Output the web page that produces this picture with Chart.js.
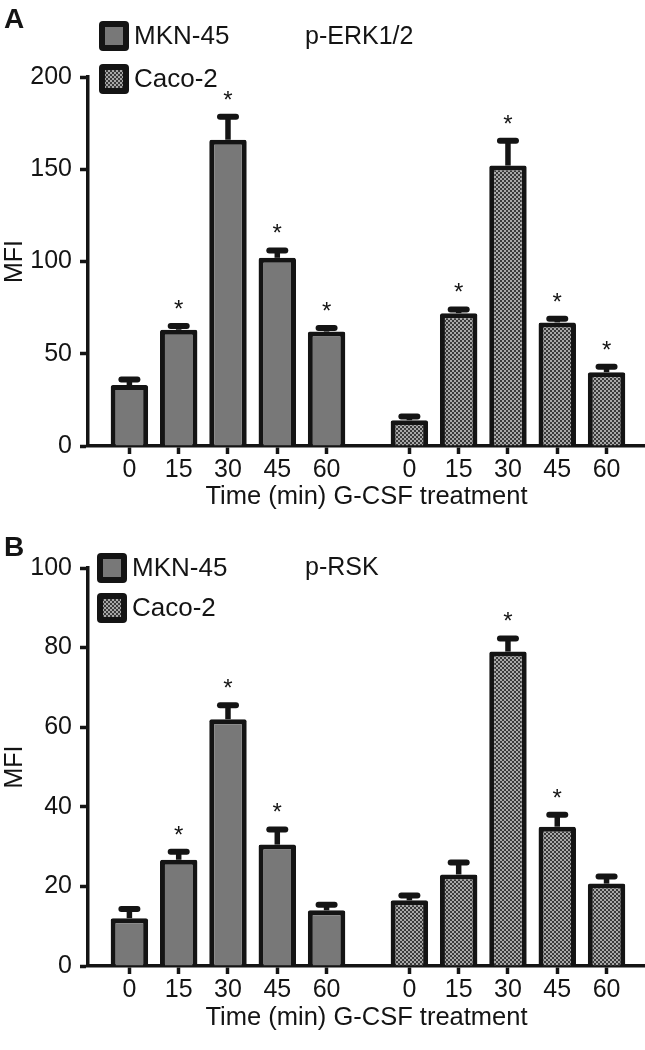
<!DOCTYPE html>
<html>
<head>
<meta charset="utf-8">
<script src="https://cdn.jsdelivr.net/npm/chart.js@4.4.1/dist/chart.umd.min.js"></script>
<style>
body { margin: 0; background: #fff; }
canvas { display: block; }
</style>
</head>
<body>
<canvas id="chartA" width="645" height="525"></canvas>
<canvas id="chartB" width="645" height="525"></canvas>
<script>
// time points (min) and the two cell lines
const timeLabels = ['0', '15', '30', '45', '60'];
const seriesNames = ['MKN-45', 'Caco-2'];

// panel A: p-ERK1/2
const erkMkn = [33, 63, 166, 102, 62];
const erkMknErr = [3, 2, 12.5, 4, 2];
const erkMknStars = ['', '*', '*', '*', '*'];
const erkCaco = [14, 72, 152, 67, 40];
const erkCacoErr = [2, 2, 13.5, 2, 3];
const erkCacoStars = ['', '*', '*', '*', '*'];

// panel B: p-RSK
const rskMkn = [12, 26.7, 62, 30.5, 14];
const rskMknErr = [2.3, 2, 3.5, 3.8, 1.4];
const rskMknStars = ['', '*', '*', '*', ''];
const rskCaco = [16.5, 23, 79, 35, 20.7];
const rskCacoErr = [1.2, 3, 3.3, 3, 1.8];
const rskCacoStars = ['', '', '*', '*', ''];

const FONT = "'Liberation Sans', Arial, Helvetica, sans-serif";
const INK = '#141414';
const GROUP_GAP = 5.68;   // where the second group starts on the x scale

const posMkn = timeLabels.map((t, i) => i);
const posCaco = timeLabels.map((t, i) => i + GROUP_GAP);
const tickPos = posMkn.concat(posCaco);
const tickText = timeLabels.concat(timeLabels);

function checker(ctx) {
  const c = document.createElement('canvas');
  c.width = 4; c.height = 4;
  const g = c.getContext('2d');
  g.fillStyle = '#a8a8a8';
  g.fillRect(0, 0, 4, 4);
  g.fillStyle = '#3a3a3a';
  g.fillRect(0, 0, 2, 2);
  g.fillRect(2, 2, 2, 2);
  return ctx.createPattern(c, 'repeat');
}

// error caps, asterisks, legend and panel labels
const extras = {
  id: 'extras',
  afterDatasetsDraw(chart) {
    const ctx = chart.ctx;
    const y = chart.scales.y;
    chart.data.datasets.forEach((ds, di) => {
      const meta = chart.getDatasetMeta(di);
      meta.data.forEach((bar, i) => {
        const top = y.getPixelForValue(ds.data[i].y + ds.errors[i]);
        ctx.save();
        ctx.strokeStyle = INK;
        ctx.lineWidth = 5.5;
        ctx.beginPath();
        ctx.moveTo(bar.x, bar.y);
        ctx.lineTo(bar.x, top);
        ctx.stroke();
        ctx.lineWidth = 6;
        ctx.lineCap = 'round';
        ctx.beginPath();
        ctx.moveTo(bar.x - 8, top);
        ctx.lineTo(bar.x + 8, top);
        ctx.stroke();
        if (ds.stars[i]) {
          ctx.fillStyle = INK;
          ctx.font = '24px ' + FONT;
          ctx.textAlign = 'center';
          ctx.textBaseline = 'alphabetic';
          ctx.fillText(ds.stars[i], bar.x, top - 9);
        }
        ctx.restore();
      });
    });
  },
  afterDraw(chart, args, o) {
    const ctx = chart.ctx;
    ctx.save();
    ctx.fillStyle = INK;
    ctx.textBaseline = 'middle';
    ctx.font = 'bold 28px ' + FONT;
    ctx.fillText(o.letter, 4, o.letterY);
    ctx.font = '25px ' + FONT;
    ctx.fillText(o.title, 305, o.titleY);
    ctx.font = '26px ' + FONT;
    chart.data.datasets.forEach((ds, i) => {
      const cy = o.legendY[i];
      ctx.fillStyle = INK;
      ctx.beginPath();
      ctx.roundRect(o.legendX, cy - 15, 30, 30, 4);
      ctx.fill();
      ctx.fillStyle = ds.backgroundColor;
      ctx.fillRect(o.legendX + 6, cy - 9, 18, 18);
      ctx.fillStyle = INK;
      ctx.fillText(ds.label, o.legendX + 35, cy + 1);
    });
    ctx.restore();
  }
};

function makeChart(id, mkn, mknErr, mknStars, caco, cacoErr, cacoStars, yMax, yStep, layout) {
  const ctx = document.getElementById(id).getContext('2d');
  const datasets = [
    {
      label: seriesNames[0],
      data: mkn.map((v, i) => ({ x: posMkn[i], y: v })),
      errors: mknErr,
      stars: mknStars,
      backgroundColor: '#787878'
    },
    {
      label: seriesNames[1],
      data: caco.map((v, i) => ({ x: posCaco[i], y: v })),
      errors: cacoErr,
      stars: cacoStars,
      backgroundColor: checker(ctx)
    }
  ];
  return new Chart(ctx, {
    type: 'bar',
    data: { datasets: datasets },
    plugins: [extras],
    options: {
      responsive: false,
      animation: false,
      devicePixelRatio: 1,
      layout: { padding: { top: layout.top, right: 0, left: 0, bottom: 0 } },
      datasets: {
        bar: {
          grouped: false,
          categoryPercentage: 1,
          barPercentage: 0.76,
          borderColor: INK,
          borderWidth: 5,
          borderRadius: 2,
          borderSkipped: 'start'
        }
      },
      plugins: {
        legend: { display: false },
        tooltip: { enabled: false },
        extras: layout.extras
      },
      scales: {
        x: {
          type: 'linear',
          min: -0.84,
          max: 10.46,
          offset: false,
          afterFit: s => { s.height = layout.xHeight; },
          afterBuildTicks: s => { s.ticks = tickPos.map(v => ({ value: v })); },
          ticks: {
            autoSkip: false,
            maxRotation: 0,
            padding: 1,
            color: INK,
            font: { family: FONT, size: 25 },
            callback: (v, i) => tickText[i]
          },
          grid: { drawOnChartArea: false, offset: false, tickLength: 8, tickWidth: 3.5, tickColor: INK },
          border: { color: INK, width: 3.5 },
          title: {
            display: true,
            text: 'Time (min) G-CSF treatment',
            color: INK,
            font: { family: FONT, size: 25.5 },
            padding: { top: 0, bottom: layout.titlePad }
          }
        },
        y: {
          min: 0,
          max: yMax,
          afterFit: s => { s.width = 88; },
          ticks: {
            stepSize: yStep,
            padding: 8,
            color: INK,
            font: { family: FONT, size: 25 }
          },
          grid: { drawOnChartArea: false, tickLength: 8, tickWidth: 3.5, tickColor: INK },
          border: { color: INK, width: 3.5 },
          title: {
            display: true,
            text: 'MFI',
            color: INK,
            font: { family: FONT, size: 25 },
            padding: 0
          }
        }
      }
    }
  });
}

makeChart('chartA', erkMkn, erkMknErr, erkMknStars, erkCaco, erkCacoErr, erkCacoStars, 200, 50, {
  top: 77, xHeight: 79, titlePad: 13,
  extras: { letter: 'A', letterY: 20, title: 'p-ERK1/2', titleY: 37, legendX: 99, legendY: [36, 79] }
});

makeChart('chartB', rskMkn, rskMknErr, rskMknStars, rskCaco, rskCacoErr, rskCacoStars, 100, 20, {
  top: 43, xHeight: 84, titlePad: 17,
  extras: { letter: 'B', letterY: 23, title: 'p-RSK', titleY: 43, legendX: 97, legendY: [43, 83] }
});
</script>
</body>
</html>
